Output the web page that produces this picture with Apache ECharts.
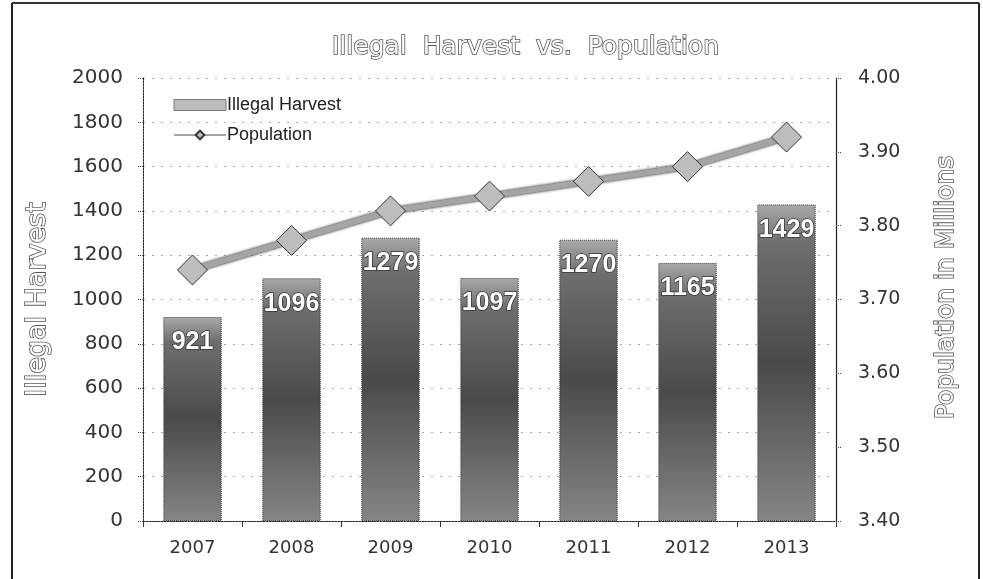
<!DOCTYPE html>
<html><head><meta charset="utf-8">
<script src="https://cdn.jsdelivr.net/npm/echarts@6/dist/echarts.min.js"></script>
<style>html,body{margin:0;padding:0;background:#fff}#c{width:983px;height:579px}</style>
</head><body><div id="c"></div>
<script>
const years = ['2007','2008','2009','2010','2011','2012','2013'];
const harvest = [921,1096,1279,1097,1270,1165,1429];
const population = [3.74,3.78,3.82,3.84,3.86,3.88,3.92];
const leftTicks = {min:0, max:2000, interval:200};
const rightTicks = {min:3.4, max:4.0, interval:0.1};

const chart = echarts.init(document.getElementById('c'));
const hollow = {color:'#fff', textBorderColor:'#555', textBorderWidth:1.6};
chart.setOption({
  backgroundColor:'#fff',
  animation:false,
  title:{text:'Illegal  Harvest  vs.  Population', left:327, top:30,
    textStyle:Object.assign({fontFamily:'DejaVu Sans', fontSize:25, fontWeight:'normal'}, hollow)},
  legend:{orient:'vertical', left:168, top:91, itemWidth:52, itemHeight:11, itemGap:12,
    textStyle:{fontFamily:'Liberation Sans', fontSize:18, color:'#222', padding:[0,0,0,-4]},
    data:[{name:'Illegal Harvest', icon:'rect', itemStyle:{color:'#bdbdbd', borderColor:'#777', borderWidth:1}},
          {name:'Population'}]},
  grid:{left:143, right:147, top:78, bottom:58},
  xAxis:{type:'category', data:years,
    axisLine:{lineStyle:{color:'#222', type:[2,1], width:1}},
    axisTick:{show:true, length:6, lineStyle:{color:'#333'}},
    axisLabel:{fontFamily:'DejaVu Sans', fontSize:18, color:'#333', margin:18}},
  yAxis:[
    {type:'value', min:leftTicks.min, max:leftTicks.max, interval:leftTicks.interval,
     name:'Illegal Harvest', nameLocation:'middle', nameGap:92, nameRotate:90,
     nameTextStyle:Object.assign({fontFamily:'DejaVu Sans', fontSize:27}, hollow),
     axisLine:{show:true, lineStyle:{color:'#222', type:[2,1]}},
     axisTick:{show:true, length:6, lineStyle:{color:'#444', type:[1,1]}},
     axisLabel:{fontFamily:'DejaVu Sans', fontSize:20, color:'#333', margin:20,
       formatter:v=>String(v)},
     splitLine:{show:true, lineStyle:{color:'#aaa', type:[2,7]}}},
    {type:'value', min:rightTicks.min, max:rightTicks.max, interval:rightTicks.interval,
     name:'Population in Millions', nameLocation:'middle', nameGap:98, nameRotate:90,
     nameTextStyle:Object.assign({fontFamily:'DejaVu Sans', fontSize:25, padding:[0,0,0,24]}, hollow),
     axisLine:{show:true, lineStyle:{color:'#222', width:1.2}},
     axisTick:{show:true, length:6, lineStyle:{color:'#444', type:[1,1]}},
     axisLabel:{fontFamily:'DejaVu Sans', fontSize:19, color:'#333', margin:22,
       formatter:v=>v.toFixed(2)},
     splitLine:{show:false}}
  ],
  series:[
    {name:'Illegal Harvest', type:'bar', data:harvest, barWidth:'59%',
     itemStyle:{color:new echarts.graphic.LinearGradient(0,0,0,1,[
       {offset:0,color:'#aaaaaa'},{offset:0.12,color:'#6e6e6e'},
       {offset:0.5,color:'#4a4a4a'},{offset:1,color:'#858585'}]),
       borderColor:'#333', borderWidth:1, borderType:[1,1]},
     label:{show:true, position:'insideTop', distance:13, color:'#fff',
       fontFamily:'Liberation Sans Narrow, Liberation Sans', fontWeight:'bold', fontSize:25,
       textBorderColor:'#333', textBorderWidth:1.5}},
    {name:'Population', type:'line', yAxisIndex:1, data:population,
     symbol:'diamond', symbolSize:30,
     lineStyle:{color:'#a5a5a5', width:6, shadowColor:'#000', shadowBlur:3},
     itemStyle:{color:'#bdbdbd', borderColor:'#333', borderWidth:1}}
  ],
  graphic:[
    {type:'line', shape:{x1:12,y1:3,x2:12,y2:579}, style:{stroke:'#222', lineWidth:2}},
    {type:'line', shape:{x1:12,y1:3,x2:979,y2:3}, style:{stroke:'#333', lineWidth:2}},
    {type:'line', shape:{x1:979,y1:3,x2:979,y2:579}, style:{stroke:'#222', lineWidth:2}}
  ]
});
</script></body></html>
